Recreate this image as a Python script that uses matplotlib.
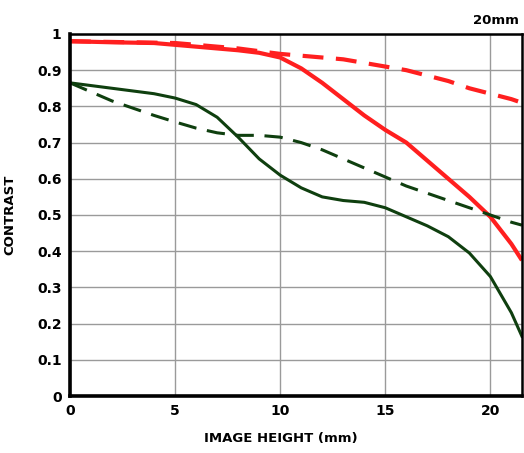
import matplotlib
matplotlib.use("Agg")
import matplotlib.pyplot as plt

# image height (mm) and contrast values
height_red = [0, 2, 4, 6, 8, 9, 10, 11, 12, 13, 14, 15, 16, 17, 18, 19, 20, 21, 21.5]
red_solid = [0.98, 0.977, 0.975, 0.965, 0.955, 0.948, 0.935, 0.905, 0.865, 0.82,
             0.775, 0.735, 0.70, 0.65, 0.60, 0.55, 0.495, 0.42, 0.375]

height_red_d = [0, 5, 8, 10, 11, 12, 13, 14, 15, 16, 17, 18, 19, 20, 21, 21.5]
red_dashed = [0.98, 0.975, 0.96, 0.945, 0.94, 0.935, 0.93, 0.92, 0.91, 0.90,
              0.885, 0.87, 0.85, 0.835, 0.82, 0.81]

height_green = [0, 2, 4, 5, 6, 7, 8, 9, 10, 11, 12, 13, 14, 15, 16, 17, 18, 19, 20, 21, 21.5]
green_solid = [0.865, 0.85, 0.835, 0.823, 0.805, 0.77, 0.715, 0.655, 0.61, 0.575,
               0.55, 0.54, 0.535, 0.52, 0.495, 0.47, 0.44, 0.395, 0.33, 0.23, 0.165]

height_green_d = [0, 1, 2, 3, 4, 5, 6, 7, 8, 9, 10, 11, 12, 13, 14, 15, 16, 17,
                  18, 19, 20, 21, 21.5]
green_dashed = [0.865, 0.84, 0.815, 0.795, 0.775, 0.757, 0.74, 0.727, 0.72, 0.72,
                0.715, 0.70, 0.68, 0.655, 0.63, 0.605, 0.58, 0.56, 0.54, 0.52,
                0.5, 0.48, 0.472]

x_ticks = [0, 5, 10, 15, 20]
y_ticks = [0, 0.1, 0.2, 0.3, 0.4, 0.5, 0.6, 0.7, 0.8, 0.9, 1]
y_labels = ["0", "0.1", "0.2", "0.3", "0.4", "0.5", "0.6", "0.7", "0.8", "0.9", "1"]

RED = "#ff1f1f"
GREEN = "#0f3f0f"

fig = plt.figure(figsize=(5.24, 4.53), dpi=100)
ax = fig.add_axes([0.1336, 0.1258, 0.8624, 0.7992])

ax.plot(height_red, red_solid, color=RED, lw=3.0, solid_capstyle="butt")
ax.plot(height_red_d, red_dashed, color=RED, lw=3.0, dashes=(5, 3))
ax.plot(height_green, green_solid, color=GREEN, lw=2.2)
ax.plot(height_green_d, green_dashed, color=GREEN, lw=2.2, dashes=(6, 3.5))

ax.set_xlim(0, 21.5)
ax.set_ylim(0, 1)
ax.set_xticks(x_ticks)
ax.set_yticks(y_ticks)
ax.set_yticklabels(y_labels)
ax.grid(True, color="#9a9a9a", lw=1.0)
ax.set_axisbelow(True)
ax.tick_params(length=0, pad=6, labelsize=10)
for lab in ax.get_xticklabels() + ax.get_yticklabels():
    lab.set_fontweight("bold")

for side in ["left", "bottom"]:
    ax.spines[side].set_linewidth(2.6)
for side in ["top", "right"]:
    ax.spines[side].set_linewidth(1.8)

fig.text(0.018, 0.525, "CONTRAST", rotation=90, ha="center", va="center",
         fontsize=9.5, fontweight="bold")
fig.text(0.535, 0.033, "IMAGE HEIGHT (mm)", ha="center", va="center",
         fontsize=9.5, fontweight="bold")
fig.text(0.99, 0.955, "20mm", ha="right", va="center", fontsize=9.5, fontweight="bold")

fig.savefig("out.png", dpi=100)
